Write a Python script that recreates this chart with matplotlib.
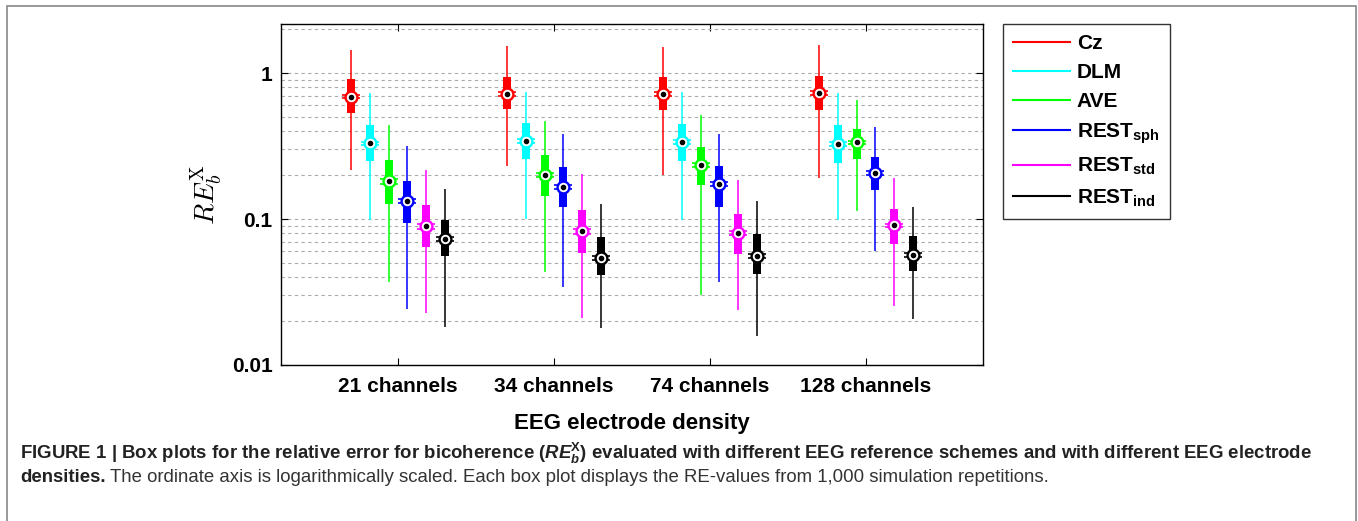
import numpy as np
import matplotlib
matplotlib.use("Agg")
import matplotlib.pyplot as plt
from matplotlib.lines import Line2D
from matplotlib.patches import Rectangle

plt.rcParams["font.family"] = ["Liberation Sans", "DejaVu Sans"]
plt.rcParams["mathtext.fontset"] = "custom"
plt.rcParams["mathtext.rm"] = "Liberation Sans"
plt.rcParams["mathtext.it"] = "Liberation Sans:italic"
plt.rcParams["mathtext.bf"] = "Liberation Sans:bold"
plt.rcParams["mathtext.bfit"] = "Liberation Sans:italic:bold"

# --- data (rows: reference scheme, columns: electrode density) ---
groups = ["21 channels", "34 channels", "74 channels", "128 channels"]
methods = ["Cz", "DLM", "AVE", r"REST$_{\mathbf{sph}}$", r"REST$_{\mathbf{std}}$", r"REST$_{\mathbf{ind}}$"]
colors = ["#ff0000", "#00ffff", "#00ff00", "#0000ff", "#ff00ff", "#000000"]
n_reps = 1000

whisk_hi = [[1.45, 1.53, 1.51, 1.556],
            [0.726, 0.745, 0.738, 0.726],
            [0.44, 0.467, 0.513, 0.65],
            [0.316, 0.382, 0.38, 0.427],
            [0.216, 0.202, 0.185, 0.191],
            [0.161, 0.126, 0.134, 0.121]]
q3 = [[0.905, 0.944, 0.939, 0.954],
      [0.443, 0.455, 0.447, 0.438],
      [0.253, 0.274, 0.31, 0.413],
      [0.182, 0.227, 0.23, 0.266],
      [0.125, 0.115, 0.109, 0.117],
      [0.0985, 0.075, 0.079, 0.076]]
medians = [[0.69, 0.718, 0.718, 0.733],
           [0.33, 0.342, 0.337, 0.328],
           [0.181, 0.201, 0.234, 0.335],
           [0.133, 0.166, 0.173, 0.207],
           [0.089, 0.0824, 0.0802, 0.0905],
           [0.073, 0.0538, 0.0558, 0.0567]]
q1 = [[0.535, 0.564, 0.555, 0.555],
      [0.251, 0.259, 0.251, 0.243],
      [0.127, 0.144, 0.172, 0.258],
      [0.094, 0.12, 0.121, 0.157],
      [0.0646, 0.0588, 0.0573, 0.0675],
      [0.0558, 0.0413, 0.042, 0.0442]]
whisk_lo = [[0.217, 0.232, 0.201, 0.192],
            [0.099, 0.100, 0.098, 0.099],
            [0.0372, 0.0431, 0.030, 0.1135],
            [0.0242, 0.0344, 0.0372, 0.0607],
            [0.0226, 0.0209, 0.0238, 0.0254],
            [0.0181, 0.0178, 0.0158, 0.0206]]

W, H = 1358, 521
fig = plt.figure(figsize=(W / 100, H / 100), dpi=100)
ax = fig.add_axes([281 / W, 1 - 365 / H, (983 - 281) / W, (365 - 24) / H])

group_x = np.arange(1, len(groups) + 1)
offsets = (np.arange(len(methods)) - (len(methods) - 1) / 2) * 0.12
box_w = 0.052

for i, color in enumerate(colors):
    xs = group_x + offsets[i]
    lo, hi = np.array(whisk_lo[i]), np.array(whisk_hi[i])
    b1, b3 = np.array(q1[i]), np.array(q3[i])
    med = np.array(medians[i])
    ax.vlines(xs, lo, hi, color=color, lw=1.1, zorder=3)
    ax.bar(xs, b3 - b1, bottom=b1, width=box_w, color=color, lw=0, zorder=3)
    # notch markers, median +/- 1.57*IQR/sqrt(n)
    notch = 1.57 * (b3 - b1) / np.sqrt(n_reps)
    for side in (-1, 1):
        for sgn in (-1, 1):
            ax.hlines(med + sgn * notch, xs + side * 0.02, xs + side * 0.058,
                      color=color, lw=1.2, zorder=4)
    ax.plot(xs, med, "o", ms=8.5, mfc="white", mec=color, mew=1.7, ls="none", zorder=5)
    ax.plot(xs, med, "o", ms=3, mfc="black", mec="black", ls="none", zorder=6)

ax.set_yscale("log")
ax.set_ylim(0.01, 2.17)
ax.set_xlim(0.25, 4.75)
ax.set_xticks(group_x)
ax.set_xticklabels(groups, fontsize=15, fontweight="bold")
ax.set_yticks([0.01, 0.1, 1])
ax.set_yticklabels(["0.01", "0.1", "1"], fontsize=15, fontweight="bold")
ax.yaxis.set_minor_formatter(plt.NullFormatter())
ax.tick_params(which="major", direction="in", length=5, top=True, right=True, pad=6)
ax.tick_params(axis="x", which="major", pad=9)
ax.tick_params(which="minor", length=0)
ax.grid(True, which="both", axis="y", ls=(0, (3, 3)), color="#aaaaaa", lw=0.8)
ax.set_axisbelow(True)
for sp in ax.spines.values():
    sp.set_linewidth(1.0)

ax.set_xlabel("EEG electrode density", fontsize=16, fontweight="bold", labelpad=12)
ax.set_ylabel(r"$RE_b^{\mathrm{X}}$", fontsize=20, math_fontfamily="cm", labelpad=6)

handles = [Line2D([], [], color=c, lw=1.5) for c in colors]
leg = ax.legend(handles, methods, loc="upper left",
                bbox_to_anchor=(1003 / W, 1 - 24 / H), bbox_transform=fig.transFigure,
                prop={"weight": "bold", "size": 15}, frameon=True, fancybox=False,
                edgecolor="black", borderaxespad=0, handlelength=2.7,
                handletextpad=0.35, labelspacing=0.48, borderpad=0.5)
leg.get_frame().set_linewidth(1.0)

# caption
cap_color = "#222222"
cap_size = 13.4
fig.text(20 / W, 1 - 459 / H,
         r"FIGURE 1 | Box plots for the relative error for bicoherence "
         r"($\mathbfit{RE}_{\mathbfit{b}}^{\mathbf{X}}$) evaluated with different EEG "
         r"reference schemes and with different EEG electrode",
         fontsize=cap_size, fontweight="bold", color=cap_color, va="baseline")
t_bold = fig.text(20 / W, 1 - 482 / H, "densities.", fontsize=cap_size, fontweight="bold",
                  color=cap_color, va="baseline")
renderer = fig.canvas.get_renderer()
bb = t_bold.get_window_extent(renderer)
fig.text((bb.x1 + 4) / W, 1 - 482 / H,
         "The ordinate axis is logarithmically scaled. Each box plot displays the "
         "RE-values from 1,000 simulation repetitions.",
         fontsize=cap_size, color="#333333", va="baseline")

# outer frame
fig.patches.append(Rectangle((7 / W, -0.1), (1356 - 7) / W, 1.1 - 6 / H,
                             transform=fig.transFigure, fill=False,
                             edgecolor="#888888", lw=1.2))

fig.savefig("out.png", dpi=100)
